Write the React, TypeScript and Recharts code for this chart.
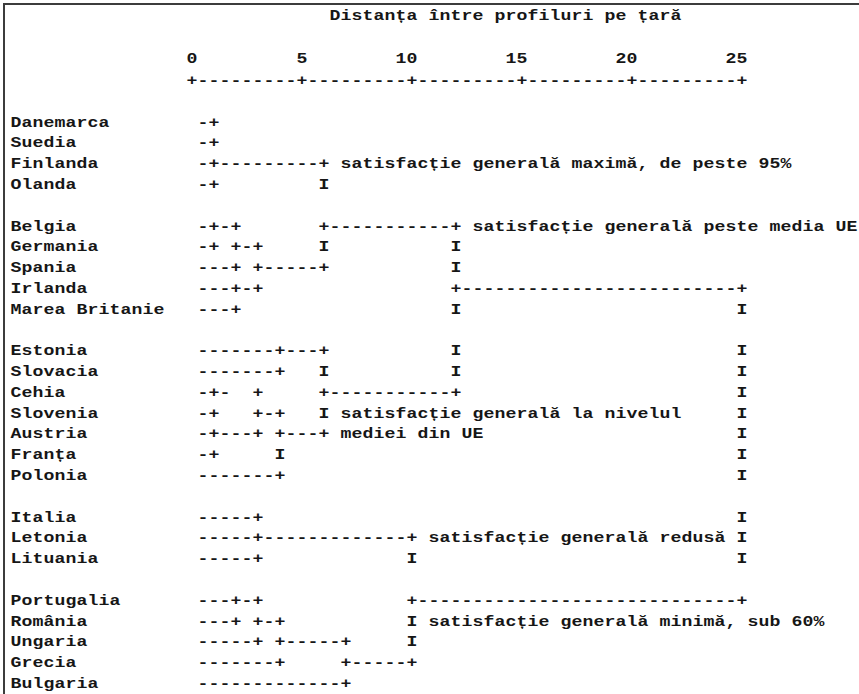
import React from 'react';
import { ScatterChart, Scatter, XAxis, YAxis, Label } from 'recharts';

// chart frame
const WIDTH = 859;
const HEIGHT = 694;
const LABEL_W = 181;
const TOP_H = 70;
const X_DOMAIN: [number, number] = [-0.5, 30.318];
const Y_DOMAIN: [number, number] = [-2.535, 27.48];
const UNIT_PX = (WIDTH - LABEL_W) / (X_DOMAIN[1] - X_DOMAIN[0]);
const CHAR_W = UNIT_PX / 2; // two text columns per distance unit
const FONT = '"Liberation Mono", "DejaVu Sans Mono", monospace';
const INK = '#161616';

const title = 'Distanța între profiluri pe țară';
const distanceTicks = [0, 5, 10, 15, 20, 25];
const axisRule = '+---------+---------+---------+---------+---------+';

const groups: string[][] = [
  ['Danemarca', 'Suedia', 'Finlanda', 'Olanda'],
  ['Belgia', 'Germania', 'Spania', 'Irlanda', 'Marea Britanie'],
  ['Estonia', 'Slovacia', 'Cehia', 'Slovenia', 'Austria', 'Franța', 'Polonia'],
  ['Italia', 'Letonia', 'Lituania'],
  ['Portugalia', 'România', 'Ungaria', 'Grecia', 'Bulgaria'],
];

// dendrogram strokes per country: [column, glyphs], a column is half a distance unit
const treeRuns: [number, string][][] = [
  [[1, '-+']], // Danemarca
  [[1, '-+']], // Suedia
  [[1, '-+---------+']], // Finlanda
  [[1, '-+'], [12, 'I']], // Olanda
  [[1, '-+-+'], [12, '+-----------+']], // Belgia
  [[1, '-+ +-+'], [12, 'I'], [24, 'I']], // Germania
  [[1, '---+ +-----+'], [24, 'I']], // Spania
  [[1, '---+-+'], [24, '+-------------------------+']], // Irlanda
  [[1, '---+'], [24, 'I'], [50, 'I']], // Marea Britanie
  [[1, '-------+---+'], [24, 'I'], [50, 'I']], // Estonia
  [[1, '-------+'], [12, 'I'], [24, 'I'], [50, 'I']], // Slovacia
  [[1, '-+-  +'], [12, '+-----------+'], [50, 'I']], // Cehia
  [[1, '-+   +-+'], [12, 'I'], [50, 'I']], // Slovenia
  [[1, '-+---+ +---+'], [50, 'I']], // Austria
  [[1, '-+'], [8, 'I'], [50, 'I']], // Franța
  [[1, '-------+'], [50, 'I']], // Polonia
  [[1, '-----+'], [50, 'I']], // Italia
  [[1, '-----+-------------+'], [50, 'I']], // Letonia
  [[1, '-----+'], [20, 'I'], [50, 'I']], // Lituania
  [[1, '---+-+'], [20, '+-----------------------------+']], // Portugalia
  [[1, '---+ +-+'], [20, 'I']], // România
  [[1, '-----+ +-----+'], [20, 'I']], // Ungaria
  [[1, '-------+'], [14, '+-----+']], // Grecia
  [[1, '-------------+']], // Bulgaria
];

const annotations: [string, number, string][] = [
  ['Finlanda', 14, 'satisfacție generală maximă, de peste 95%'],
  ['Belgia', 26, 'satisfacție generală peste media UE'],
  ['Slovenia', 14, 'satisfacție generală la nivelul'],
  ['Austria', 14, 'mediei din UE'],
  ['Letonia', 22, 'satisfacție generală redusă'],
  ['România', 22, 'satisfacție generală minimă, sub 60%'],
];

const countries = groups.flat();
const rowOf: Record<string, number> = {};
let nextRow = 0;
groups.forEach((g) => {
  g.forEach((name) => {
    rowOf[name] = nextRow++;
  });
  nextRow++; // blank line between groups
});
const nameAtRow: Record<number, string> = {};
countries.forEach((n) => (nameAtRow[rowOf[n]] = n));

const marks: { x: number; y: number; text: string }[] = [];
marks.push({ x: 0, y: -2, text: axisRule });
countries.forEach((name, i) => {
  treeRuns[i].forEach(([col, glyphs]) => marks.push({ x: col / 2, y: rowOf[name], text: glyphs }));
});
annotations.forEach(([name, col, text]) => marks.push({ x: col / 2, y: rowOf[name], text }));

// one glyph per text column, widened a bit to look like the old line-printer face
const MonoText = ({ x, y, text }: { x: number; y: number; text: string }) => (
  <g>
    {Array.from(text).map((ch, i) =>
      ch === ' ' ? null : (
        <text
          key={i}
          transform={`translate(${x + i * CHAR_W},${y}) scale(1.3,1)`}
          textAnchor="middle"
          dominantBaseline="central"
          fontFamily={FONT}
          fontSize={14}
          fontWeight={700}
          fill={INK}
        >
          {ch}
        </text>
      )
    )}
  </g>
);

const CountryTick = (props: any) => {
  const { y, payload } = props;
  const name = nameAtRow[payload.value];
  if (!name) return null;
  // names start 16 columns left of distance 0
  const x0 = LABEL_W + (-16 / 2 - X_DOMAIN[0]) * UNIT_PX;
  return <MonoText x={x0} y={y} text={name} />;
};

const DistanceTick = (props: any) => {
  const { x, y, payload } = props;
  const s = String(payload.value);
  return <MonoText x={x - (s.length - 1) * CHAR_W} y={y} text={s} />;
};

const TitleLabel = (props: any) => {
  const vb = props.viewBox || { x: LABEL_W, y: 0, width: WIDTH - LABEL_W };
  const span = X_DOMAIN[1] - X_DOMAIN[0];
  const x0 = vb.x + (13 / 2 - X_DOMAIN[0]) * (vb.width / span);
  return <MonoText x={x0} y={vb.y + 16} text={title} />;
};

const App = () => {
  return (
    <div
      style={{
        position: 'fixed',
        left: 0,
        top: 0,
        width: WIDTH,
        height: HEIGHT,
        overflow: 'hidden',
        background: '#fff',
      }}
    >
      <div
        style={{
          position: 'absolute',
          left: 3,
          top: 3,
          width: 1000,
          height: 1000,
          border: '2px solid #3c3c3c',
        }}
      />
      <div style={{ position: 'absolute', left: 0, top: 0 }}>
        <ScatterChart width={WIDTH} height={HEIGHT} margin={{ top: 0, right: 0, bottom: 0, left: 0 }}>
          <XAxis
            type="number"
            dataKey="x"
            orientation="top"
            domain={X_DOMAIN}
            allowDataOverflow
            height={TOP_H}
            ticks={distanceTicks}
            interval={0}
            axisLine={false}
            tickLine={false}
            tickSize={0}
            tickMargin={11}
            tick={<DistanceTick />}
          >
            <Label content={<TitleLabel />} />
          </XAxis>
          <YAxis
            type="number"
            dataKey="y"
            domain={Y_DOMAIN}
            reversed
            allowDataOverflow
            width={LABEL_W}
            ticks={countries.map((n) => rowOf[n])}
            interval={0}
            axisLine={false}
            tickLine={false}
            tick={<CountryTick />}
          />
          <Scatter
            data={marks}
            isAnimationActive={false}
            shape={(p: any) => <MonoText x={p.cx} y={p.cy} text={p.payload.text} />}
          />
        </ScatterChart>
      </div>
    </div>
  );
};

export default App;
